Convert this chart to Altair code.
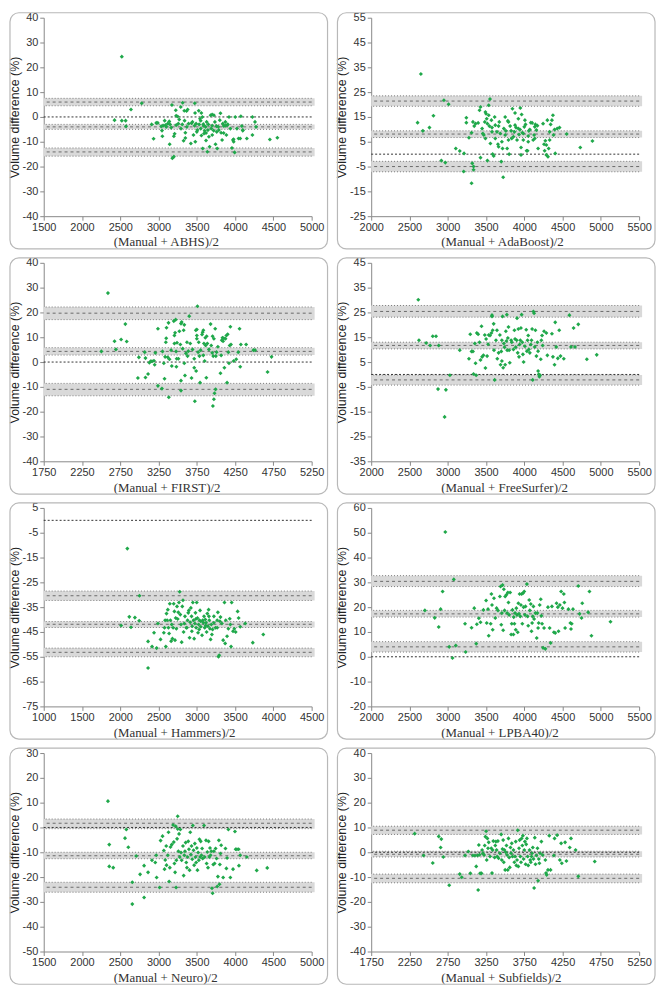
import altair as alt
import pandas as pd

# ---------------- data ----------------
ABHS = [(2520,24.3),(2425,-1.3),(2520,-1.5),(2570,-1.5),(2575,-3.8),(2640,3.0),(2780,5.5),(2910,-3.0),(2935,-8.8),(2970,-2.4),(2990,-2.4),(3035,-3.8),(3045,-5.5),(3050,-7.8),(3080,-1.5),(3090,-3.3),(3120,-2.7),(3140,-1.8),(3165,-4.3),(3145,-11.0),(3175,4.8),(3180,-16.6),(3200,-16.0),(3200,-7.8),(3210,-6.8),(3225,2.7),(3230,0.5),(3250,0.2),(3258,-2.7),(3290,4.0),(3293,-4.7),(3315,5.7),(3327,-9.6),(3336,2.5),(3350,-6.4),(3366,2.4),(3380,3.0),(3392,-2.7),(3422,-10.7),(3443,-2.0),(3456,-7.3),(3473,5.5),(3477,1.6),(3490,-2.7),(3507,-5.3),(3525,2.5),(3542,-0.7),(3551,-4.7),(3559,1.6),(3572,0.0),(3577,-12.7),(3585,-2.9),(3594,-6.7),(3602,-5.6),(3615,-4.0),(3628,-2.0),(3637,-14.0),(3645,-5.3),(3658,-8.0),(3667,-12.0),(3680,0.7),(3688,-4.7),(3701,-7.3),(3723,0.7),(3736,-2.0),(3744,-11.0),(3757,-3.7),(3766,-12.7),(3787,-5.3),(3800,-1.3),(3809,1.5),(3817,-6.4),(3830,-9.3),(3839,-2.7),(3852,-3.6),(3873,-2.0),(3886,-7.3),(3895,-3.3),(3920,0.0),(3938,-4.7),(3959,-12.5),(3972,-9.3),(3981,-10.0),(3994,-14.3),(4002,0.0),(4024,-4.7),(4045,-8.7),(4067,-8.7),(4075,0.3),(4088,-3.7),(4101,-5.3),(4153,-8.7),(4226,0.0),(4226,-7.3),(4260,-2.0),(4273,-4.0),(4454,-9.1),(4552,-8.4),(3230,-3.3),(3270,-1.0),(3310,-3.0),(3340,-1.5),(3370,-4.0),(3430,-2.5),(3470,-3.5),(3500,-6.0),(3530,-3.0),(3560,-7.5),(3590,-3.5),(3620,-6.5),(3650,-3.0),(3700,-3.5),(3720,-5.5),(3760,-6.0),(3850,-6.5),(3870,-3.5),(3905,-3.0),(3980,-9.0),(4100,-5.5),(3100,-4.0),(3060,-3.5),(3150,-3.0),(3350,-8.5),(3480,-10.0),(3620,-9.5),(3700,1.0),(3780,-4.0),(3550,-1.5)]

ADABOOST = [(2649,32.3),(2606,12.7),(2675,9.4),(2761,10.7),(2813,15.5),(2950,21.7),(3011,20.1),(2916,-2.6),(2968,-3.4),(3105,2.3),(3157,1.3),(3213,0.3),(3208,-7),(3311,-11.7),(3320,-3.7),(3337,-5),(3337,-6.3),(3243,14.7),(3243,12.7),(3277,6.6),(3311,8.6),(3329,13),(3346,11.3),(3363,12.3),(3397,12.6),(3415,17.7),(3428,19),(3428,-1.4),(3449,10.3),(3458,8.3),(3484,13),(3492,6.3),(3500,16.3),(3509,14.3),(3518,12.3),(3518,-2.6),(3535,19.7),(3535,15.7),(3544,11.3),(3552,22.2),(3557,4.3),(3570,13.7),(3578,10.7),(3587,0),(3600,-0.7),(3613,15),(3621,11.7),(3643,9),(3656,4),(3664,3),(3673,13),(3686,8.3),(3699,-3),(3707,5),(3716,2.3),(3724,-9.3),(3733,10.3),(3750,15),(3759,9.4),(3776,2.3),(3785,13.4),(3793,5.7),(3802,0),(3815,11.3),(3828,9.4),(3845,18.3),(3858,7),(3871,9),(3879,16.6),(3892,10.7),(3905,5.7),(3922,10.3),(3931,7.9),(3944,9.9),(3948,18.6),(3957,2.7),(3957,-0.3),(3965,16),(3974,8.6),(3987,5.7),(4000,11),(4008,13.7),(4016,12),(4030,1.4),(4042,1.4),(4051,7.3),(4059,9.4),(4085,12.7),(4103,12.6),(4116,5.7),(4128,7.7),(4137,11),(4145,12),(4158,9.7),(4171,11.5),(4180,2.3),(4245,12.3),(4258,4),(4266,1.4),(4275,5.4),(4288,-0.3),(4301,13.7),(4309,-1),(4318,2.3),(4331,5.7),(4344,12),(4361,13.7),(4374,15.7),(4382,7.7),(4395,9.9),(4404,0.3),(4430,10.3),(4460,10.7),(4554,8.1),(4731,2.7),(4890,5.3),(3664,11.3),(3750,7.7),(3836,6.3),(3879,11.7),(3987,8.3),(4051,5),(4137,6.3),(3621,6.3),(3471,7.7),(3793,13),(4072,9.9),(3922,14.3),(3578,9),(4288,3.7),(4331,9),(3492,17)]

FIRST = [(2589,27.8),(2503,4.3),(2675,8.4),(2693,5.1),(2761,9.1),(2816,15.3),(2834,8.3),(2980,-6.4),(2993,1.9),(3070,4),(3079,1.6),(3079,-6.2),(3113,-4.8),(3130,-0.3),(3147,0.3),(3164,0.3),(3190,0.5),(3199,-1.1),(3208,3.7),(3242,13.4),(3242,-9.6),(3294,-10.7),(3302,4.3),(3319,-0.5),(3328,-6.7),(3336,2.1),(3345,8),(3350,9.6),(3354,13.8),(3371,1.9),(3380,15.8),(3384,-14.2),(3393,1.1),(3414,4.8),(3423,-1.6),(3449,16.5),(3457,10.7),(3457,7.5),(3466,11.8),(3474,17.1),(3479,4.3),(3483,-1.9),(3487,1.3),(3491,7.8),(3509,1.3),(3522,12.4),(3535,7.1),(3543,15.5),(3543,-7.5),(3543,-11.5),(3552,16.1),(3565,5.4),(3578,12.8),(3586,15),(3586,-0.5),(3595,-5.4),(3608,3.5),(3621,8),(3629,2.4),(3638,4.4),(3651,18.5),(3664,7.5),(3681,-6.4),(3694,5.1),(3716,1.3),(3716,-2.3),(3724,-15.8),(3737,12.8),(3741,-3.6),(3750,13.1),(3750,10.7),(3750,9.4),(3758,22.5),(3767,4),(3775,8),(3784,2.4),(3792,-8.3),(3800,4.8),(3818,11.1),(3826,12),(3835,12.8),(3835,2.7),(3843,7.5),(3852,0.4),(3861,9.8),(3865,6.7),(3874,-6.3),(3878,10.4),(3887,7.5),(3908,5.1),(3930,15.3),(3938,6.7),(3951,3.7),(3956,10.4),(3960,-17.7),(3964,2.4),(3973,9.4),(3973,-15),(3981,-12.6),(3990,13.4),(3995,-11),(3999,2.4),(4008,4),(4025,6.2),(4059,-4.5),(4068,2.7),(4076,8.8),(4085,9.8),(4093,8.4),(4102,9.6),(4110,-2.3),(4124,9.4),(4136,10.7),(4145,-8.3),(4153,11.2),(4162,4),(4170,-0.5),(4179,6.7),(4188,14.2),(4196,7.1),(4231,0.4),(4265,1.1),(4291,4),(4308,13.4),(4317,-1.9),(4325,7.1),(4394,7.1),(4489,4.8),(4511,4.8),(4674,-4),(4726,2.1)]

FREESURFER = [(2615,30.1),(2624,13.8),(2718,12.7),(2770,11.7),(2804,15.4),(2847,15.4),(2882,11.7),(2873,-5.9),(2976,-6.2),(2959,-17.1),(3028,-0.3),(3157,9.8),(3277,6.3),(3294,16.2),(3311,9.3),(3329,9.3),(3337,0.2),(3354,12.5),(3363,4.5),(3371,-0.3),(3380,16.7),(3397,16.2),(3415,13),(3428,5.8),(3441,19.4),(3449,7.1),(3466,7.7),(3484,15.9),(3492,2.6),(3501,14.3),(3514,7.4),(3527,12.2),(3535,15.9),(3552,15.7),(3570,16.7),(3578,23.9),(3578,23.4),(3587,17.8),(3600,20.4),(3604,9.8),(3613,-2.2),(3630,13.8),(3643,17.8),(3647,6.3),(3664,8.7),(3681,15.9),(3690,3.9),(3699,9.3),(3707,13.8),(3707,5.4),(3716,23.4),(3724,2.7),(3733,12.5),(3742,11),(3750,3.9),(3759,17.4),(3767,13.5),(3772,24.1),(3776,9.8),(3785,14.7),(3793,19.1),(3802,9.8),(3810,4.7),(3828,13.8),(3836,13),(3858,10.1),(3871,17.8),(3879,14.3),(3888,11),(3901,13.8),(3905,22.7),(3914,8.7),(3922,18.3),(3931,7.1),(3939,12.1),(3948,13.8),(3956,18.7),(3965,24.1),(3974,13),(3982,8.1),(3991,5),(4008,11.4),(4025,18),(4034,9.4),(4042,13.8),(4051,15.7),(4059,10.1),(4072,8.7),(4085,12.1),(4094,13.8),(4102,18.3),(4110,-2.2),(4119,25.4),(4128,24.7),(4137,11.1),(4145,17.8),(4158,7.4),(4171,13),(4180,9.4),(4180,1.4),(4189,0.1),(4197,-0.9),(4206,-0.3),(4215,6.1),(4223,13.8),(4232,15.7),(4240,11.7),(4258,17.4),(4288,16.7),(4301,7.7),(4361,16.4),(4374,7.1),(4395,3.9),(4404,21),(4417,11.1),(4438,6.5),(4456,17.8),(4473,7.4),(4516,6.3),(4589,23.9),(4610,11.1),(4644,18.7),(4662,11.1),(4705,20.2),(4817,6.1),(4946,7.9)]

HAMMERS = [(2092,-11.4),(2011,-42.4),(2118,-38.9),(2140,-43.1),(2191,-39.2),(2251,-30.4),(2247,-40.5),(2363,-48.8),(2363,-59.5),(2415,-50.9),(2441,-45.3),(2475,-51.5),(2492,-41.6),(2526,-48),(2569,-45.3),(2578,-43.3),(2586,-40.3),(2595,-50.9),(2604,-37.6),(2612,-40.3),(2621,-36),(2629,-43.3),(2638,-45.6),(2647,-33.6),(2655,-40.3),(2664,-48.7),(2672,-42),(2681,-47.7),(2690,-43.3),(2698,-33.6),(2707,-36.7),(2715,-48.3),(2724,-39.4),(2733,-43.7),(2741,-34.7),(2750,-39.8),(2758,-37.1),(2767,-33.1),(2776,-28.8),(2784,-38),(2793,-42),(2802,-49.1),(2810,-34.7),(2819,-32.2),(2827,-45),(2836,-41.6),(2845,-38.7),(2862,-43.3),(2879,-40.3),(2888,-37.3),(2896,-36.3),(2905,-47.3),(2913,-41.1),(2922,-35.3),(2931,-38.7),(2939,-42.7),(2948,-33.1),(2956,-40.3),(2965,-47.7),(2974,-41.6),(2982,-37.3),(2991,-43.3),(2999,-33.1),(3008,-39.4),(3016,-45.3),(3025,-42),(3034,-40.3),(3042,-36.3),(3051,-42.9),(3068,-46.3),(3077,-40.3),(3085,-41.3),(3094,-38.7),(3103,-43.3),(3111,-40),(3120,-41.3),(3128,-45),(3137,-37.6),(3146,-42.7),(3154,-36),(3163,-40.3),(3171,-43.7),(3180,-48),(3189,-42),(3197,-46),(3206,-44),(3223,-41.3),(3244,-43.3),(3266,-40.3),(3275,-37.1),(3283,-55),(3292,-54.4),(3301,-40.7),(3309,-39),(3327,-41.6),(3344,-48.3),(3361,-33.1),(3370,-49.6),(3378,-40.3),(3395,-46.7),(3412,-43.7),(3430,-39.7),(3438,-42),(3447,-50.9),(3455,-33.1),(3473,-44.7),(3490,-43.7),(3507,-45),(3533,-36.7),(3546,-39.4),(3567,-42.9),(3632,-41.6),(3731,-49.3),(3868,-46),(2987,-39.8),(3051,-40.7),(3116,-42.4),(3030,-44),(2935,-44.7),(2870,-43.3),(3158,-38.7),(3223,-38.7),(3266,-43.3)]

LPBA40 = [(2968,50.3),(3079,31.2),(2701,18.7),(2830,15.7),(2882,12),(2907,19.2),(2933,26.3),(3019,4),(3062,-0.5),(3105,4.5),(3226,13.3),(3234,1.9),(3311,11.7),(3346,19.6),(3372,5.3),(3380,13.1),(3406,15.5),(3428,13.9),(3466,18.9),(3501,22.7),(3509,13.6),(3526,19.2),(3535,8.5),(3561,13.3),(3570,25.3),(3578,20.9),(3587,10.9),(3604,23.6),(3621,15.6),(3638,19.6),(3656,18.7),(3681,24.3),(3690,28.3),(3699,12.9),(3707,17.6),(3716,28.9),(3724,10.7),(3733,27.2),(3742,18.7),(3750,24.3),(3767,25),(3776,17.6),(3785,25.9),(3793,21.9),(3802,16.9),(3815,25.9),(3828,9),(3836,13.3),(3845,18.9),(3858,9),(3862,16),(3871,13.3),(3879,17.6),(3888,10.9),(3896,19.6),(3905,16.9),(3914,9.9),(3922,21.6),(3931,17.3),(3939,25.3),(3948,16.3),(3956,20.9),(3965,25.3),(3974,13.3),(3982,25.6),(3991,20),(3999,26.3),(4008,16.9),(4016,20.3),(4034,29.3),(4042,16.3),(4051,12.5),(4064,22.9),(4072,18.7),(4085,21.3),(4094,10.3),(4102,13.6),(4111,16.3),(4119,20.3),(4128,15.2),(4145,17.6),(4162,7.6),(4171,17.6),(4180,11.6),(4188,13.6),(4201,20.9),(4215,23.2),(4223,16.5),(4232,13.3),(4245,3.6),(4258,11.6),(4275,3.2),(4309,20),(4331,11.6),(4344,5.6),(4361,20.3),(4387,9.9),(4404,9.6),(4421,21.6),(4438,20),(4447,10.3),(4464,20.9),(4481,26.3),(4499,19.6),(4516,25.3),(4524,21.9),(4533,11.6),(4576,19.2),(4602,13.6),(4610,11.2),(4619,13.3),(4636,19.2),(4705,28.5),(4722,17.3),(4748,15.6),(4757,21.6),(4834,17.9),(4851,26.3),(4877,8.5),(5126,14.1)]

NEURO = [(2339,10.6),(2356,-6.9),(2356,-15.7),(2408,-16.2),(2562,-4.3),(2579,-0.8),(2605,-8),(2657,-22.1),(2657,-30.9),(2708,-11.5),(2759,-18.9),(2811,-15.4),(2811,-28.2),(2863,-18.1),(2914,-13.2),(2957,-14.1),(2970,-11.2),(2975,-20.2),(3014,-24.2),(3027,-5.3),(3052,-3.5),(3069,-9.3),(3078,-16.8),(3087,-13.1),(3100,-7.5),(3104,-15.2),(3121,-11.2),(3130,-1.9),(3138,-21.8),(3147,-16.2),(3156,-7.9),(3173,-6.9),(3190,1),(3199,-5.9),(3207,-14.5),(3216,-18.1),(3224,0.5),(3229,-24.2),(3233,-13.2),(3242,-4.6),(3250,4.5),(3250,-0.6),(3259,-9.6),(3268,-2.6),(3276,-11.9),(3285,-0.8),(3293,-10.1),(3302,-13.2),(3319,-7.5),(3328,-19.4),(3336,-11.2),(3345,-9.6),(3354,-6.1),(3362,-14.1),(3371,-16.2),(3379,-11.9),(3388,-5.6),(3397,-8.8),(3405,-17.2),(3414,-1.9),(3422,-10.9),(3431,-7.5),(3440,-12.8),(3448,0.8),(3457,-9.2),(3465,-15.2),(3474,-6.5),(3483,-11.9),(3491,-14.1),(3500,-8.3),(3508,-17.2),(3517,-10.1),(3526,-13.2),(3534,-4.8),(3543,-11.9),(3551,-5.6),(3560,-11.2),(3569,-8.5),(3577,-12.5),(3594,0.8),(3603,-11.9),(3620,-5.2),(3628,-14.5),(3637,-9.9),(3646,-16.2),(3654,-5.6),(3663,-11.9),(3672,-8.3),(3680,-11.2),(3689,-9.6),(3698,-24.5),(3706,-26.5),(3715,-14.9),(3723,-9.6),(3732,-14.5),(3745,-8.5),(3758,-12.5),(3766,-23.8),(3775,-19.8),(3788,-5.2),(3796,-22.9),(3801,-14.9),(3809,-10.5),(3818,-7.2),(3844,-20.2),(3874,-8.5),(3886,-16.5),(3895,-12.3),(3912,-0.8),(3938,-20.2),(3973,-16.8),(3998,-1.6),(4007,-8.8),(4024,-8.8),(4046,-8.8),(4050,-15.4),(4067,-11.2),(4153,-11.9),(4282,-17.3),(4420,-16.3)]

SUBFIELDS = [(2318,7.5),(2434,-1.3),(2554,-4.3),(2632,6.4),(2666,5.3),(2657,1.9),(2692,-1.9),(2769,-13.3),(2907,-8.8),(2933,-10.1),(2976,-1.3),(3019,0.3),(3045,-8.5),(3079,-1.3),(3105,-1.3),(3122,-5.7),(3139,-1.3),(3147,-15.2),(3156,2.9),(3165,-1),(3173,-8.5),(3190,-8.5),(3199,0.9),(3208,-0.4),(3225,-1.1),(3233,2.7),(3242,6.3),(3251,8.5),(3259,-3.1),(3268,5.6),(3276,1.6),(3285,4),(3302,-1.7),(3319,1.6),(3328,-8.4),(3336,0.9),(3345,4.5),(3362,-2.1),(3371,2.7),(3379,4.3),(3388,0.9),(3396,-1.7),(3405,4.5),(3414,-2.4),(3431,-0.4),(3448,7.2),(3456,-3.1),(3465,1.3),(3474,4.9),(3482,-4),(3491,0.9),(3500,-7.1),(3508,0),(3517,2.7),(3526,-1.1),(3534,-7.1),(3543,5.6),(3552,-2.1),(3560,-6.1),(3569,1.9),(3577,-0.4),(3586,3.6),(3595,-1.7),(3608,0.9),(3620,-4),(3629,-1.7),(3638,4.3),(3646,-5.3),(3655,-3.1),(3664,8.9),(3672,-5.7),(3681,1.6),(3689,4.9),(3698,-1.7),(3707,-4),(3715,5.6),(3724,2.7),(3732,6.7),(3741,-2.7),(3750,0.9),(3758,4.3),(3767,-4.8),(3775,3.2),(3784,5.6),(3793,-1.7),(3801,-5.3),(3818,0.9),(3827,-3.1),(3835,-4),(3844,-1.7),(3852,-0.4),(3861,1.9),(3870,-2.7),(3878,-14.4),(3887,5.9),(3896,-4.8),(3908,-1.3),(3922,1.6),(3930,-11.5),(3939,-2.7),(3947,-4.4),(3956,-0.4),(3973,4.3),(3990,-1.1),(4025,-3.1),(4034,-8.4),(4042,-9.1),(4059,-7.1),(4076,6.7),(4093,-7.1),(4136,-1.3),(4145,5.6),(4179,6.9),(4214,-3.1),(4231,3.6),(4240,-4.4),(4283,4),(4300,-3.5),(4343,1.9),(4360,5.6),(4420,0.9),(4455,-9.7),(4670,-3.7)]

# Limits of agreement: (CI low, estimate, CI high) for upper limit, mean bias, lower limit
LIM_ABHS = [(4.5, 6.0, 7.5), (-5.0, -4.0, -3.0), (-15.8, -14.1, -12.5)]
LIM_ADABOOST = [(19.3, 21.4, 23.5), (6.7, 8.1, 9.4), (-7.1, -5.0, -2.9)]
LIM_FIRST = [(17.1, 19.7, 22.2), (2.8, 4.3, 5.8), (-13.6, -11.0, -8.6)]
LIM_FREESURFER = [(23.1, 25.4, 27.8), (10.3, 11.7, 13.0), (-4.3, -2.2, -0.2)]
LIM_HAMMERS = [(-32.3, -30.4, -28.5), (-43.2, -41.9, -40.8), (-55.0, -53.2, -51.5)]
LIM_LPBA40 = [(28.3, 30.4, 32.7), (16.0, 17.3, 18.7), (1.9, 4.0, 6.1)]
LIM_NEURO = [(-0.5, 1.7, 3.4), (-12.6, -11.4, -10.0), (-26.1, -24.1, -22.1)]
LIM_SUBFIELDS = [(7.2, 8.9, 10.5), (-1.9, -0.8, 0.4), (-12.3, -10.5, -8.8)]

# axis ranges: (x min, x max, y min, y max)
RANGE_ABHS = (1500, 5000, -40, 40)
RANGE_ADABOOST = (2000, 5500, -25, 55)
RANGE_FIRST = (1750, 5250, -40, 40)
RANGE_FREESURFER = (2000, 5500, -35, 45)
RANGE_HAMMERS = (1000, 4500, -75, 5)
RANGE_LPBA40 = (2000, 5500, -20, 60)
RANGE_NEURO = (1500, 5000, -50, 30)
RANGE_SUBFIELDS = (1750, 5250, -40, 40)

PANELS = [
    ("ABHS", ABHS, LIM_ABHS, RANGE_ABHS),
    ("AdaBoost", ADABOOST, LIM_ADABOOST, RANGE_ADABOOST),
    ("FIRST", FIRST, LIM_FIRST, RANGE_FIRST),
    ("FreeSurfer", FREESURFER, LIM_FREESURFER, RANGE_FREESURFER),
    ("Hammers", HAMMERS, LIM_HAMMERS, RANGE_HAMMERS),
    ("LPBA40", LPBA40, LIM_LPBA40, RANGE_LPBA40),
    ("Neuro", NEURO, LIM_NEURO, RANGE_NEURO),
    ("Subfields", SUBFIELDS, LIM_SUBFIELDS, RANGE_SUBFIELDS),
]

# ---------------- styling ----------------
W, H = 270, 200
GREEN = "#1fa84a"
SANS = "Liberation Sans"
SERIF = "Liberation Serif"


def make_panel(name, pts, lims, rng):
    x0, x1, y0, y1 = rng
    df = pd.DataFrame(pts, columns=["x", "y"])
    bands = pd.DataFrame(lims, columns=["lo", "mid", "hi"])
    zero = pd.DataFrame({"z": [0]})

    xscale = alt.Scale(domain=[x0, x1], nice=False, zero=False)
    yscale = alt.Scale(domain=[y0, y1], nice=False, zero=False)
    xaxis = alt.Axis(
        values=list(range(x0, x1 + 1, 500)), labelExpr="datum.value + ''",
        title=f"(Manual + {name})/2", titleFont=SERIF, titleFontSize=13,
        titleFontWeight="normal", titleColor="#333333", titlePadding=4,
        titleAnchor="start", titleAlign="left", titleX=70,
        labelFont=SANS, labelFontSize=11, labelColor="#333333", labelPadding=1,
        labelFlush=False, labelOverlap=False, tickSize=4, tickColor="#888888",
        domainColor="#888888", grid=False,
    )
    yaxis = alt.Axis(
        values=list(range(y0, y1 + 1, 10)), labelExpr="datum.value + ''",
        title="Volume difference (%)", titleFont=SANS, titleFontSize=12.5,
        titleFontWeight="normal", titleColor="#222222", titlePadding=1,
        labelFont=SANS, labelFontSize=11, labelColor="#333333", labelPadding=2,
        labelOverlap=False, tickSize=4, tickColor="#888888",
        domainColor="#888888", grid=False,
    )

    frame = alt.Chart(zero).mark_rect(
        fill="transparent", stroke="#b8b8b8", strokeWidth=1.2, cornerRadius=9
    ).encode(
        x=alt.value(-34), x2=alt.value(W + 16), y=alt.value(-5), y2=alt.value(H + 33)
    )
    band = alt.Chart(bands).mark_rect(color="#d9d9d9").encode(
        x=alt.value(0), x2=alt.value(W + 3),
        y=alt.Y("lo:Q", scale=yscale, axis=yaxis), y2="hi:Q",
    )
    edge_lo = alt.Chart(bands).mark_rule(color="#7a7a7a", strokeDash=[1, 2], strokeWidth=1).encode(
        y=alt.Y("lo:Q", scale=yscale, axis=yaxis))
    edge_hi = alt.Chart(bands).mark_rule(color="#7a7a7a", strokeDash=[1, 2], strokeWidth=1).encode(
        y=alt.Y("hi:Q", scale=yscale, axis=yaxis))
    mid = alt.Chart(bands).mark_rule(color="#6a6a6a", strokeDash=[3, 3], strokeWidth=1).encode(
        y=alt.Y("mid:Q", scale=yscale, axis=yaxis))
    zline = alt.Chart(zero).mark_rule(color="#333333", strokeDash=[2, 2], strokeWidth=1).encode(
        y=alt.Y("z:Q", scale=yscale, axis=yaxis))
    points = alt.Chart(df).mark_point(
        shape="diamond", filled=True, size=17, color=GREEN, opacity=1
    ).encode(
        x=alt.X("x:Q", scale=xscale, axis=xaxis),
        y=alt.Y("y:Q", scale=yscale, axis=yaxis),
    )
    return alt.layer(frame, band, edge_lo, edge_hi, mid, zline, points).properties(width=W, height=H)


charts = [make_panel(*p) for p in PANELS]
chart = alt.concat(
    *charts, columns=2, spacing={"row": 47, "column": 60}, bounds="flush"
).properties(
    padding={"left": 0, "top": 0, "right": 0, "bottom": 0}, background="white"
).configure_view(strokeWidth=0)

chart.save("out.html", embed_options={"renderer": "svg", "actions": False})
